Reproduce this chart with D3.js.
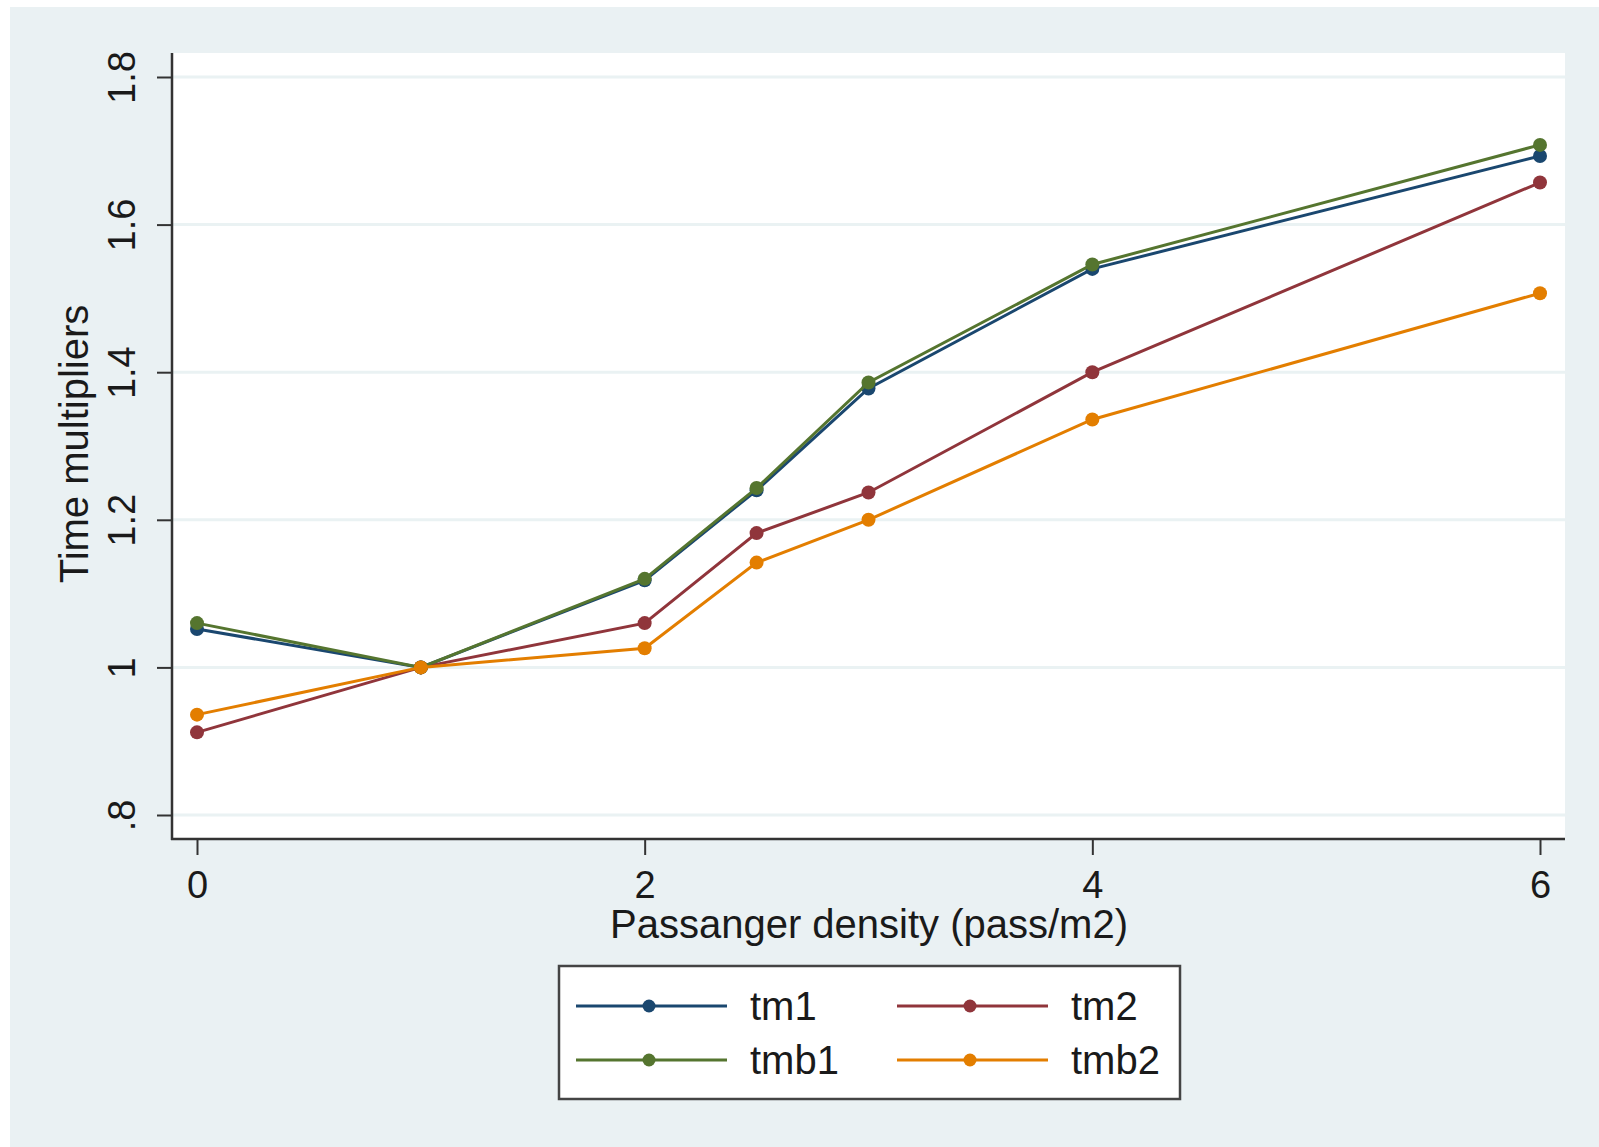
<!DOCTYPE html>
<html>
<head>
<meta charset="utf-8">
<script src="https://cdn.jsdelivr.net/npm/d3@7"></script>
<style>
  html, body { margin: 0; padding: 0; background: #ffffff; }
  svg { display: block; }
  text { font-family: "Liberation Sans", Arial, sans-serif; fill: #1a1a1a; }
</style>
</head>
<body>
<svg id="chart" width="1599" height="1147"></svg>
<script>
// ---- data ----
const xValues = [0, 1, 2, 2.5, 3, 4, 6];
const tm1  = [1.052, 1.0, 1.118, 1.240, 1.378, 1.540, 1.693];
const tm2  = [0.912, 1.0, 1.060, 1.182, 1.237, 1.400, 1.657];
const tmb1 = [1.060, 1.0, 1.120, 1.243, 1.386, 1.546, 1.708];
const tmb2 = [0.936, 1.0, 1.026, 1.142, 1.200, 1.336, 1.507];
const seriesNames = ["tm1", "tm2", "tmb1", "tmb2"];
const seriesColors = ["#1a476f", "#90353b", "#55752f", "#e37e00"];
const yTicks = [0.8, 1.0, 1.2, 1.4, 1.6, 1.8];
const yTickLabels = [".8", "1", "1.2", "1.4", "1.6", "1.8"];
const xTicks = [0, 2, 4, 6];
const xTickLabels = ["0", "2", "4", "6"];
const xTitle = "Passanger density (pass/m2)";
const yTitle = "Time multipliers";

const seriesData = [tm1, tm2, tmb1, tmb2];

const svg = d3.select("#chart");

// outer panel
svg.append("rect").attr("x", 10).attr("y", 7).attr("width", 1589).attr("height", 1140)
  .attr("fill", "#eaf1f3");

// plot region
const plot = { left: 172, right: 1565, top: 53, bottom: 839 };
svg.append("rect").attr("x", plot.left).attr("y", plot.top)
  .attr("width", plot.right - plot.left).attr("height", plot.bottom - plot.top)
  .attr("fill", "#ffffff");

const x = d3.scaleLinear().domain([0, 6]).range([197, 1540]);
const y = d3.scaleLinear().domain([0.8, 1.8]).range([815, 77]);

// grid lines
svg.append("g").selectAll("line").data(yTicks).join("line")
  .attr("x1", plot.left).attr("x2", plot.right)
  .attr("y1", d => y(d)).attr("y2", d => y(d))
  .attr("stroke", "#eaf2f3").attr("stroke-width", 3);

// y axis
const yAxis = d3.axisLeft(y).tickValues(yTicks).tickSize(15).tickPadding(0)
  .tickFormat((d, i) => yTickLabels[i]);
const gy = svg.append("g").attr("transform", `translate(${plot.left},0)`).call(yAxis);
gy.select(".domain").remove();
gy.selectAll(".tick line").attr("stroke", "#333").attr("stroke-width", 2);
gy.selectAll(".tick text")
  .attr("font-size", 38).attr("fill", "#1a1a1a")
  .attr("text-anchor", "middle").attr("dy", null).attr("x", null)
  .attr("transform", "translate(-37,0) rotate(-90)");
svg.append("line").attr("x1", plot.left).attr("x2", plot.left)
  .attr("y1", plot.top).attr("y2", plot.bottom + 1)
  .attr("stroke", "#333").attr("stroke-width", 2.5);

// x axis
const xAxis = d3.axisBottom(x).tickValues(xTicks).tickSize(16).tickPadding(16)
  .tickFormat((d, i) => xTickLabels[i]);
const gx = svg.append("g").attr("transform", `translate(0,${plot.bottom})`).call(xAxis);
gx.select(".domain").remove();
gx.selectAll(".tick line").attr("stroke", "#333").attr("stroke-width", 2);
gx.selectAll(".tick text").attr("font-size", 38).attr("fill", "#1a1a1a");
svg.append("line").attr("x1", plot.left - 1).attr("x2", plot.right)
  .attr("y1", plot.bottom).attr("y2", plot.bottom)
  .attr("stroke", "#333").attr("stroke-width", 2.5);

// titles
svg.append("text").attr("x", 869).attr("y", 938).attr("text-anchor", "middle")
  .attr("font-size", 40).text(xTitle);
svg.append("text").attr("transform", "translate(88,444) rotate(-90)")
  .attr("text-anchor", "middle").attr("font-size", 40).text(yTitle);

// series
const line = d3.line().x((d, i) => x(xValues[i])).y(d => y(d));
seriesData.forEach((vals, k) => {
  const g = svg.append("g");
  g.append("path").datum(vals).attr("d", line)
    .attr("fill", "none").attr("stroke", seriesColors[k]).attr("stroke-width", 3);
  g.selectAll("circle").data(vals).join("circle")
    .attr("cx", (d, i) => x(xValues[i])).attr("cy", d => y(d)).attr("r", 7)
    .attr("fill", seriesColors[k]);
});

// legend
const lg = svg.append("g");
lg.append("rect").attr("x", 559).attr("y", 966).attr("width", 621).attr("height", 133)
  .attr("fill", "#ffffff").attr("stroke", "#444").attr("stroke-width", 2.5);
const legPos = [
  { lx: 576, ty: 1006, tx: 750 },
  { lx: 897, ty: 1006, tx: 1071 },
  { lx: 576, ty: 1060, tx: 750 },
  { lx: 897, ty: 1060, tx: 1071 }
];
seriesNames.forEach((name, k) => {
  const p = legPos[k];
  lg.append("line").attr("x1", p.lx).attr("x2", p.lx + 151)
    .attr("y1", p.ty).attr("y2", p.ty)
    .attr("stroke", seriesColors[k]).attr("stroke-width", 3);
  lg.append("circle").attr("cx", p.lx + 73).attr("cy", p.ty).attr("r", 6.5)
    .attr("fill", seriesColors[k]);
  lg.append("text").attr("x", p.tx).attr("y", p.ty + 14).attr("font-size", 40).text(name);
});
</script>
</body>
</html>
